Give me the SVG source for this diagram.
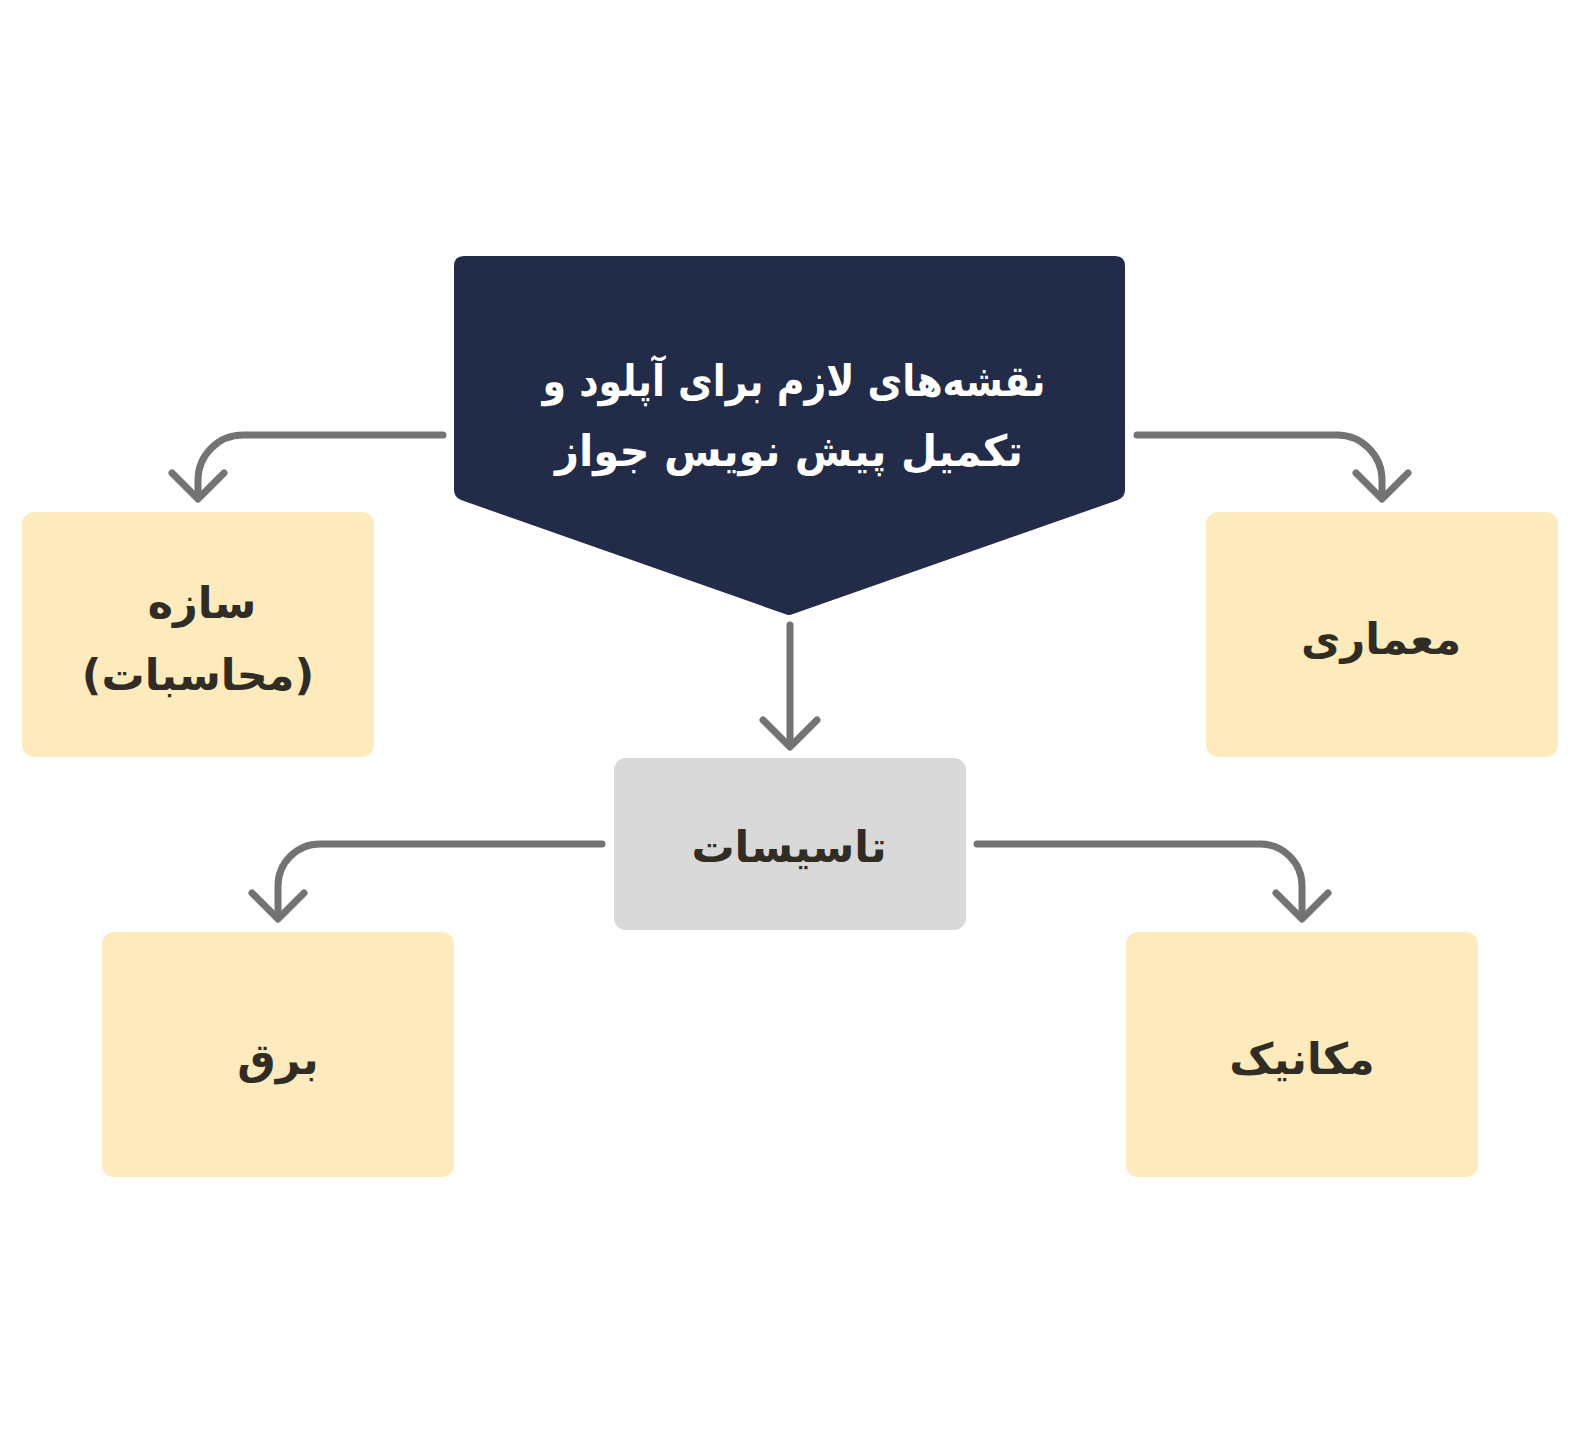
<svg xmlns="http://www.w3.org/2000/svg" width="1585" height="1434" viewBox="0 0 1585 1434">
<style>
.box{fill:#FDEABD}
.gray{fill:#D9D9D9}
.lbl{font-family:"DejaVu Sans",sans-serif;font-weight:bold;font-size:43px;fill:#312D24;text-anchor:middle;direction:rtl}
.title{font-family:"DejaVu Sans",sans-serif;font-weight:bold;font-size:43px;fill:#FFFFFF;text-anchor:middle;direction:rtl}
.con{fill:none;stroke:#737373;stroke-width:7;stroke-linecap:round;stroke-linejoin:round}
</style>
<rect width="1585" height="1434" fill="#FFFFFF"/>
<g id="root">
<path d="M464,256 H1115 Q1125,256 1125,266 V490 Q1125,497 1118,500 L793,614 Q789,616 785,614 L461,500 Q454,497 454,490 V266 Q454,256 464,256 Z" fill="#222B47"/>
<text class="title" x="794" y="396" textLength="503" lengthAdjust="spacingAndGlyphs">نقشه‌های لازم برای آپلود و</text>
<text class="title" x="789" y="466" textLength="468" lengthAdjust="spacingAndGlyphs">تکمیل پیش نویس جواز</text>
</g>
<g id="saze">
<rect class="box" x="22" y="512" width="352" height="245" rx="12"/>
<text class="lbl" x="202" y="618">سازه</text>
<text class="lbl" x="198" y="690">(محاسبات)</text>
</g>
<g id="memari">
<rect class="box" x="1206" y="512" width="352" height="245" rx="12"/>
<text class="lbl" x="1381" y="654">معماری</text>
</g>
<g id="tasisat">
<rect class="gray" x="614" y="758" width="352" height="172" rx="12"/>
<text class="lbl" x="789" y="862">تاسیسات</text>
</g>
<g id="bargh">
<rect class="box" x="102" y="932" width="352" height="245" rx="12"/>
<text class="lbl" x="278" y="1074">برق</text>
</g>
<g id="mechanic">
<rect class="box" x="1126" y="932" width="352" height="245" rx="12"/>
<text class="lbl" x="1302" y="1074">مکانیک</text>
</g>
<g id="connectors">
<path class="con" d="M443,435 H243 A45,45 0 0 0 198,480 V498"/>
<path class="con" d="M172,473 L198,499 L224,473"/>
<path class="con" d="M1137,435 H1337 A45,45 0 0 1 1382,480 V498"/>
<path class="con" d="M1356,473 L1382,499 L1408,473"/>
<path class="con" d="M790,625 V746"/>
<path class="con" d="M763,720 L790,747 L817,720"/>
<path class="con" d="M602,844 H320 A42,42 0 0 0 278,886 V918"/>
<path class="con" d="M252,893 L278,919 L304,893"/>
<path class="con" d="M977,844 H1260 A42,42 0 0 1 1302,886 V918"/>
<path class="con" d="M1276,893 L1302,919 L1328,893"/>
</g>
</svg>
